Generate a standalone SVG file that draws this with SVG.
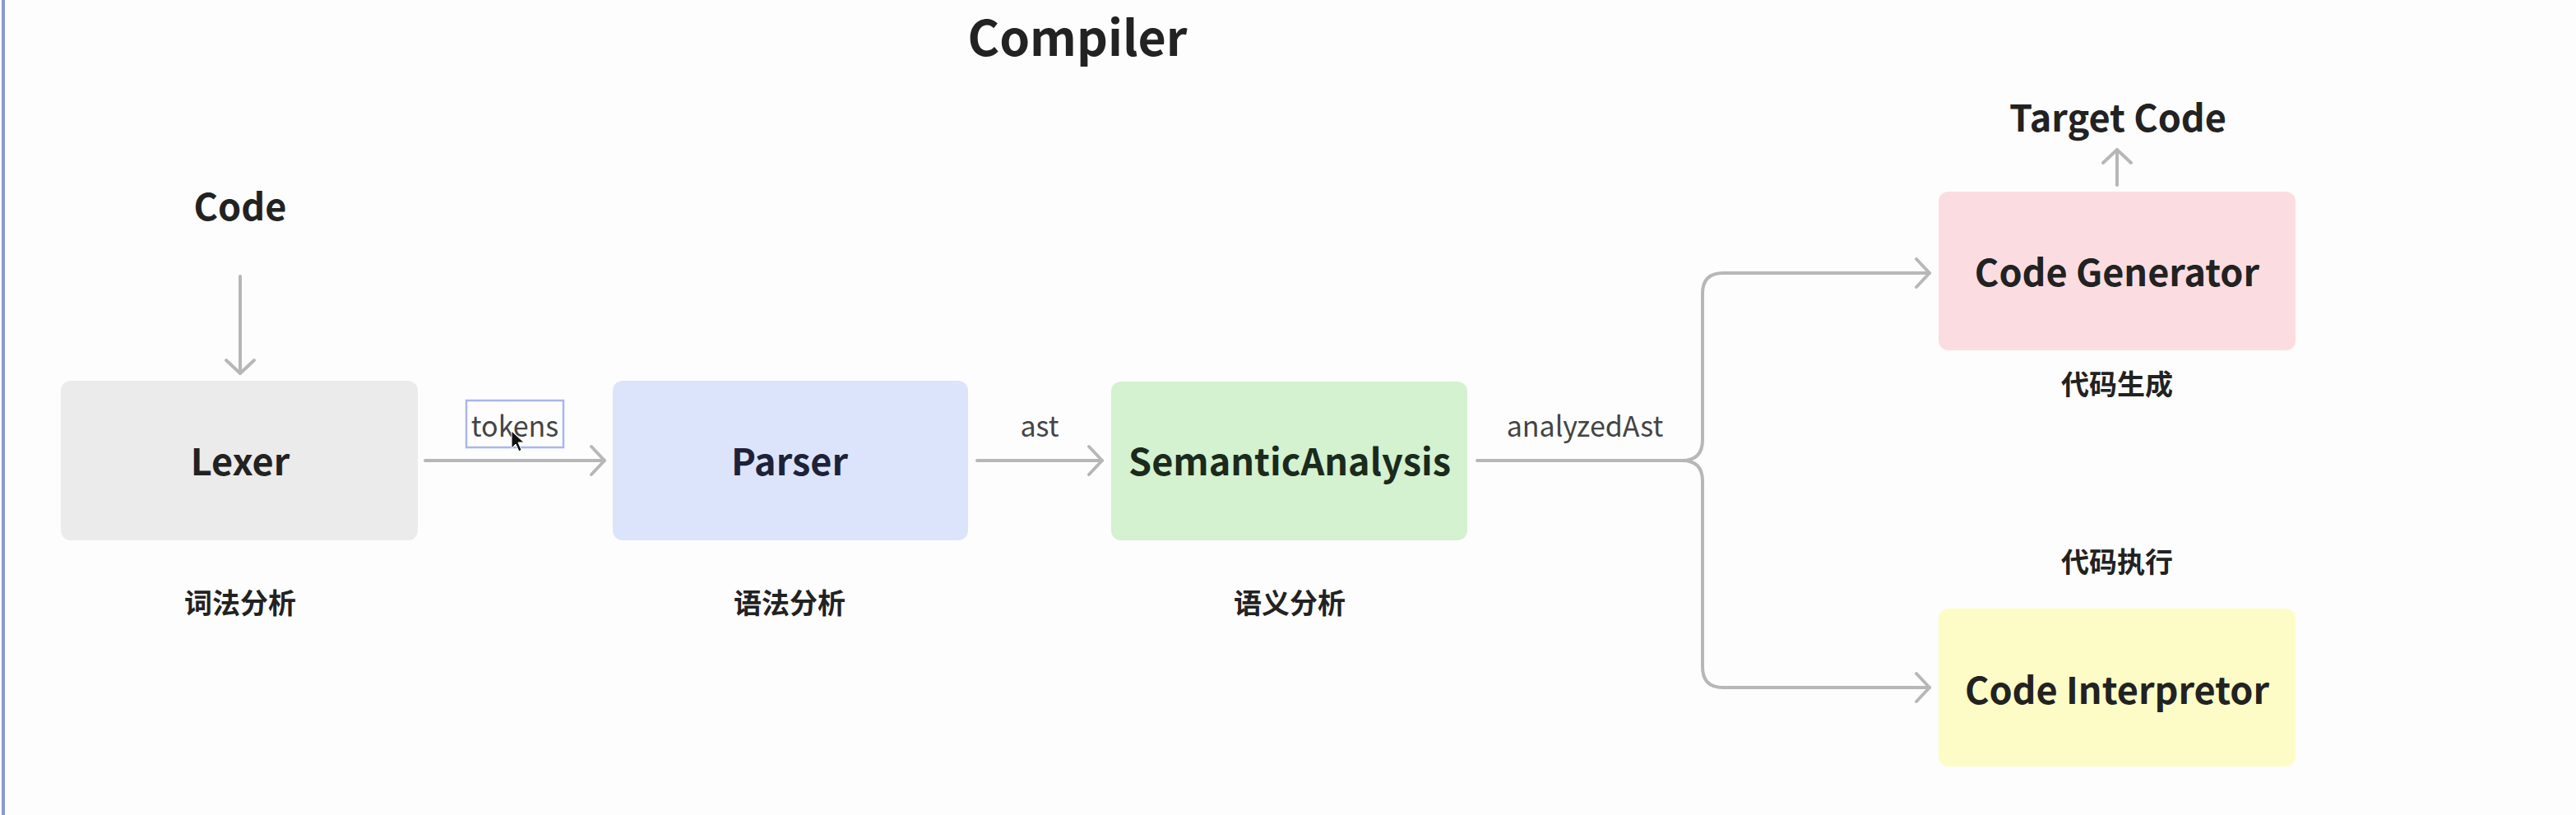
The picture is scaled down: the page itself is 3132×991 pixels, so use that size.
<svg xmlns="http://www.w3.org/2000/svg" width="3132" height="991" viewBox="0 0 3132 991">
<style>
text{font-family:"Noto Sans CJK SC","Noto Sans",sans-serif;text-anchor:middle}
.title{font-size:59px;font-weight:700;fill:#222}
.head{font-size:45px;font-weight:700;fill:#222}
.node{font-size:45px;font-weight:700;fill:#222}
.cn{font-size:34px;font-weight:700;fill:#222}
.lbl{font-size:34px;font-weight:400;fill:#444}
.conn{fill:none;stroke:#b7b7b7;stroke-width:4;stroke-linecap:round;stroke-linejoin:round}
</style>
<defs>
<marker id="arr" markerUnits="userSpaceOnUse" markerWidth="40" markerHeight="40" refX="20" refY="20" orient="auto" viewBox="0 0 40 40">
<path d="M4,3 L20,20 L4,37" fill="none" stroke="#b7b7b7" stroke-width="4" stroke-linecap="round" stroke-linejoin="round"/>
</marker>
</defs>
<rect x="0" y="0" width="3132" height="991" fill="#fdfdfd"/>
<rect x="2" y="0" width="4" height="991" fill="#8a9ad8"/>
<text class="title" x="1310" y="68">Compiler</text>
<g id="code-input"><text class="head" x="292" y="268">Code</text></g>
<g id="target-code"><text class="head" x="2575" y="160">Target Code</text></g>
<g id="connectors">
<path class="conn" d="M292,336 V454" marker-end="url(#arr)"/>
<path class="conn" d="M517,560 H735" marker-end="url(#arr)"/>
<path class="conn" d="M1188,560 H1340" marker-end="url(#arr)"/>
<path class="conn" d="M1796,560 H2045 Q2070,560 2070,535 V357 Q2070,332 2095,332 H2346" marker-end="url(#arr)"/>
<path class="conn" d="M2045,560 Q2070,560 2070,585 V811 Q2070,836 2095,836 H2346" marker-end="url(#arr)"/>
<path class="conn" d="M2574,225 V182" marker-end="url(#arr)"/>
<rect x="567" y="487" width="118" height="57" fill="none" stroke="#aab6ec" stroke-width="2.5"/>
<text class="lbl" x="626" y="531">tokens</text>
<path d="M622,524 L622,545 L627,540 L631,549 L634,547 L630,538 L637,538 Z" fill="#111" stroke="#fff" stroke-width="1"/>
<text class="lbl" x="1264" y="531">ast</text>
<text class="lbl" x="1927" y="531">analyzedAst</text>
</g>
<g id="lexer">
<rect x="74" y="463" width="434" height="194" rx="12" fill="#ebebeb"/>
<text class="node" x="292" y="578">Lexer</text>
<text class="cn" x="292" y="746">词法分析</text>
</g>
<g id="parser">
<rect x="745" y="463" width="432" height="194" rx="12" fill="#dce4fb"/>
<text class="node" x="960" y="578" style="fill:#1d2238">Parser</text>
<text class="cn" x="960" y="746">语法分析</text>
</g>
<g id="semantic">
<rect x="1351" y="464" width="433" height="193" rx="12" fill="#d4f1d0"/>
<text class="node" x="1568" y="578" style="fill:#1a2a1c">SemanticAnalysis</text>
<text class="cn" x="1568" y="746">语义分析</text>
</g>
<g id="generator">
<rect x="2357" y="233" width="434" height="193" rx="12" fill="#fbdde1"/>
<text class="node" x="2574" y="348">Code Generator</text>
<text class="cn" x="2574" y="480">代码生成</text>
</g>
<g id="interpreter">
<rect x="2357" y="740" width="434" height="192" rx="12" fill="#fdfcc6"/>
<text class="cn" x="2574" y="696">代码执行</text>
<text class="node" x="2574" y="856">Code Interpretor</text>
</g>
</svg>
